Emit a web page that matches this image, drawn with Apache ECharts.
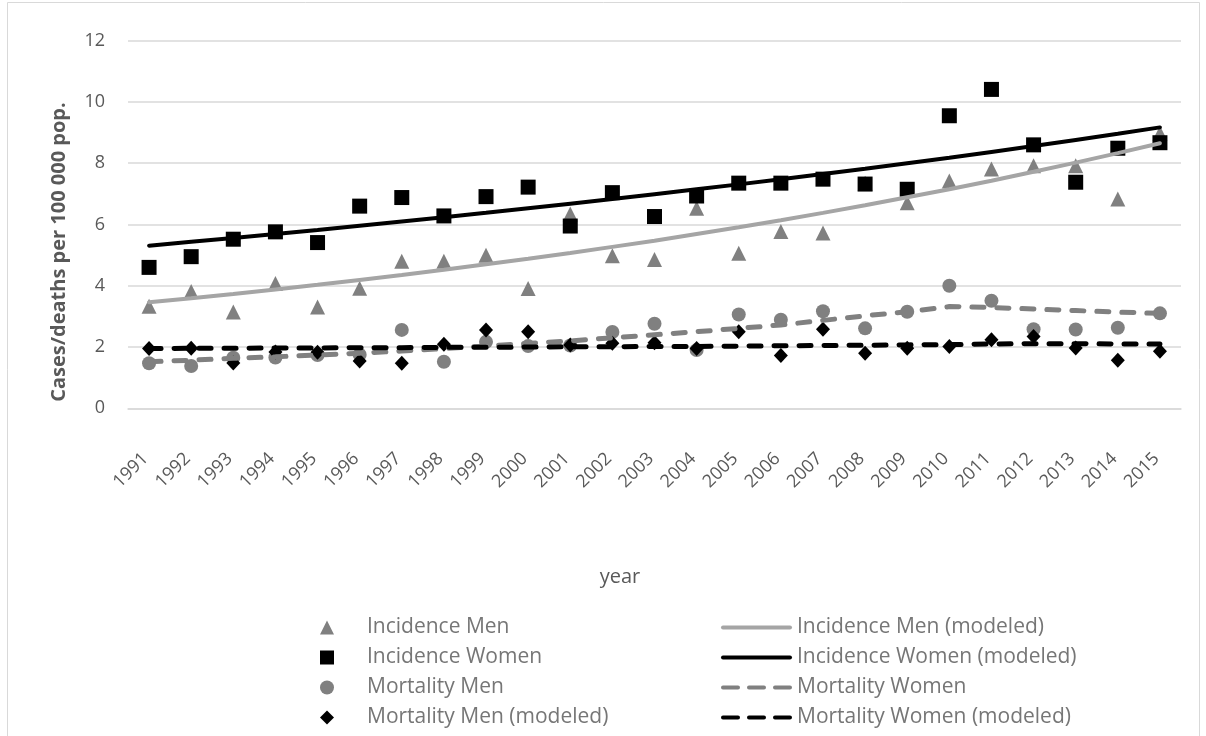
<!DOCTYPE html>
<html>
<head>
<meta charset="utf-8">
<script src="https://cdn.jsdelivr.net/npm/echarts@6/dist/echarts.min.js"></script>
<style>
  html, body { margin: 0; padding: 0; background: #fff; }
  #chart { width: 1206px; height: 736px; }
</style>
</head>
<body>
<div id="chart"></div>
<script>
  // years on the x axis
  var years = ['1991', '1992', '1993', '1994', '1995', '1996', '1997', '1998', '1999', '2000',
    '2001', '2002', '2003', '2004', '2005', '2006', '2007', '2008', '2009', '2010',
    '2011', '2012', '2013', '2014', '2015'];

  // observed points
  var incidenceMen = [3.33, 3.81, 3.14, 4.07, 3.31, 3.92, 4.80, 4.80, 5.00, 3.91,
    6.34, 4.98, 4.86, 6.53, 5.06, 5.77, 5.72, 7.35, 6.71, 7.42,
    7.81, 7.92, 7.92, 6.83, 8.98];
  var incidenceWomen = [4.60, 4.95, 5.52, 5.76, 5.41, 6.60, 6.88, 6.28, 6.91, 7.22,
    5.95, 7.04, 6.26, 6.93, 7.35, 7.35, 7.48, 7.32, 7.15, 9.55,
    10.41, 8.60, 7.38, 8.49, 8.67];
  var mortalityMen = [1.47, 1.38, 1.65, 1.66, 1.74, 1.75, 2.56, 1.52, 2.17, 2.03,
    2.05, 2.49, 2.76, 1.90, 3.06, 2.89, 3.17, 2.61, 3.15, 4.00,
    3.51, 2.58, 2.57, 2.63, 3.10];
  var mortalityMenModeled = [1.95, 1.96, 1.48, 1.84, 1.83, 1.54, 1.47, 2.09, 2.56, 2.50,
    2.07, 2.12, 2.14, 1.95, 2.50, 1.72, 2.58, 1.80, 1.96, 2.02,
    2.24, 2.34, 1.97, 1.57, 1.86];

  // modeled curves
  var incidenceMenModel = [3.46, 3.59, 3.73, 3.88, 4.03, 4.19, 4.35, 4.52, 4.70, 4.88,
    5.07, 5.27, 5.47, 5.69, 5.91, 6.14, 6.38, 6.63, 6.89, 7.15,
    7.43, 7.72, 8.02, 8.33, 8.65];
  var incidenceWomenModel = [5.31, 5.44, 5.56, 5.69, 5.82, 5.96, 6.10, 6.24, 6.38, 6.53,
    6.68, 6.83, 6.99, 7.15, 7.31, 7.48, 7.65, 7.82, 8.00, 8.18,
    8.37, 8.56, 8.76, 8.96, 9.17];
  var mortalityWomen = [1.52, 1.57, 1.63, 1.68, 1.74, 1.80, 1.87, 1.95, 2.03, 2.12,
    2.20, 2.30, 2.40, 2.50, 2.61, 2.72, 2.87, 3.02, 3.15, 3.32,
    3.29, 3.24, 3.19, 3.14, 3.10];
  var mortalityWomenModeled = [1.95, 1.96, 1.96, 1.97, 1.97, 1.98, 1.98, 1.99, 1.99, 2.00,
    2.01, 2.01, 2.02, 2.02, 2.03, 2.04, 2.05, 2.06, 2.07, 2.08,
    2.10, 2.11, 2.11, 2.10, 2.10];

  var FONT = '"Open Sans", sans-serif';
  var TEXT = '#595959';
  // legend icons for the line series
  var SOLID_ICON = 'path://M2,0H69A2,2 0 0 1 69,4H2A2,2 0 0 1 2,0Z';
  var DASH_ICON = 'path://M2,0H17A2,2 0 0 1 17,4H2A2,2 0 0 1 2,0Z' +
    'M28,0H43A2,2 0 0 1 43,4H28A2,2 0 0 1 28,0Z' +
    'M54,0H69A2,2 0 0 1 69,4H54A2,2 0 0 1 54,0Z';

  function dots(name, data, symbol, size, color) {
    return {
      name: name, type: 'scatter', data: data,
      symbol: symbol, symbolSize: size,
      itemStyle: { color: color, opacity: 1 }
    };
  }

  function curve(name, data, color, dashed) {
    return {
      name: name, type: 'line', data: data,
      showSymbol: false, symbol: 'none',
      lineStyle: {
        color: color, width: dashed ? 5 : 4, cap: 'round',
        type: dashed ? [12, 13] : 'solid'
      },
      itemStyle: { color: color }
    };
  }

  var chart = echarts.init(document.getElementById('chart'));
  var legendText = { color: '#767676', fontFamily: FONT, fontSize: 21, lineHeight: 20 };

  chart.setOption({
    animation: false,
    backgroundColor: '#fff',
    grid: { left: 128, right: 25, top: 40.7, bottom: 327.7 },
    xAxis: {
      type: 'category', data: years, boundaryGap: true,
      axisLine: { lineStyle: { color: '#d9d9d9', width: 1.5 } },
      axisTick: { show: false },
      axisLabel: {
        rotate: 45, margin: 44, padding: [0, 5, 0, 0],
        color: TEXT, fontFamily: FONT, fontSize: 18
      }
    },
    yAxis: {
      type: 'value', min: 0, max: 12, interval: 2,
      axisLine: { show: false }, axisTick: { show: false },
      splitLine: { lineStyle: { color: '#d9d9d9', width: 1.5 } },
      axisLabel: { margin: 23, color: TEXT, fontFamily: FONT, fontSize: 18 }
    },
    legend: [{
      orient: 'vertical', left: 320, top: 617, padding: 0,
      itemWidth: 14, itemHeight: 14, itemGap: 9,
      textStyle: Object.assign({ padding: [0, 0, 0, 28] }, legendText),
      data: ['Incidence Men', 'Incidence Women', 'Mortality Men', 'Mortality Men (modeled)']
    }, {
      orient: 'vertical', left: 721, top: 617, padding: 0,
      itemWidth: 71, itemHeight: 4, itemGap: 9,
      textStyle: legendText,
      data: [
        { name: 'Incidence Men (modeled)', icon: SOLID_ICON },
        { name: 'Incidence Women (modeled)', icon: SOLID_ICON },
        { name: 'Mortality Women', icon: DASH_ICON },
        { name: 'Mortality Women (modeled)', icon: DASH_ICON }
      ]
    }],
    graphic: [{
      type: 'rect', silent: true,
      shape: { x: 7.5, y: 2.5, width: 1192, height: 760 },
      style: { fill: 'none', stroke: '#d9d9d9', lineWidth: 1 }
    }, {
      type: 'text', x: 59, y: 252, rotation: Math.PI / 2,
      style: {
        text: 'Cases/deaths per 100 000 pop.', fill: TEXT,
        font: 'bold 20px ' + FONT, align: 'center', verticalAlign: 'middle'
      }
    }, {
      type: 'text', x: 620, y: 577,
      style: {
        text: 'year', fill: TEXT, font: '20px ' + FONT,
        align: 'center', verticalAlign: 'middle'
      }
    }],
    series: [
      dots('Incidence Men', incidenceMen, 'triangle', 15, '#808080'),
      curve('Incidence Men (modeled)', incidenceMenModel, '#a5a5a5', false),
      dots('Incidence Women', incidenceWomen, 'rect', 15, '#000000'),
      curve('Incidence Women (modeled)', incidenceWomenModel, '#000000', false),
      dots('Mortality Men', mortalityMen, 'circle', 14, '#808080'),
      curve('Mortality Women', mortalityWomen, '#808080', true),
      dots('Mortality Men (modeled)', mortalityMenModeled, 'diamond', [14, 15], '#000000'),
      curve('Mortality Women (modeled)', mortalityWomenModeled, '#000000', true)
    ]
  });
</script>
</body>
</html>
